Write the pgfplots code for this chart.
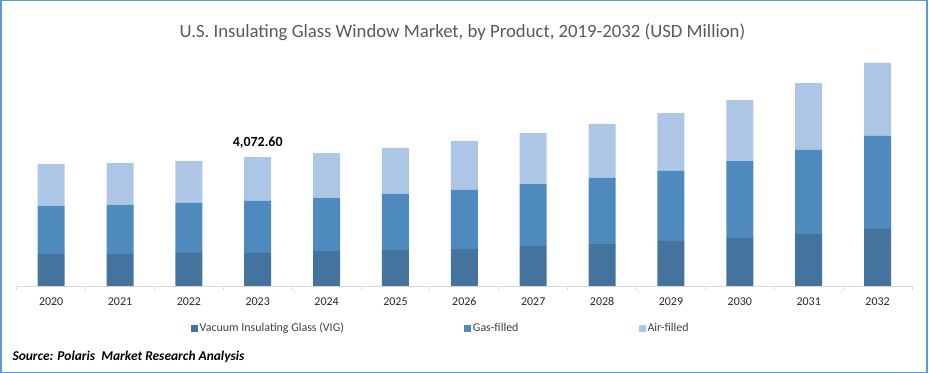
\documentclass[border=0pt]{standalone}
\usepackage{pgfplots}
\pgfplotsset{compat=1.18}
\usepackage{fontspec}
\setmainfont{Carlito}
\definecolor{vig}{HTML}{44739E}
\definecolor{gas}{HTML}{4E8ABD}
\definecolor{air}{HTML}{ADC6E6}
\definecolor{frame}{HTML}{5B9BD5}
\definecolor{titlegray}{HTML}{595959}
\definecolor{axisgray}{HTML}{D9D9D9}
\begin{document}
\begin{tikzpicture}
\useasboundingbox (0,0) rectangle (929bp,373bp);
\draw[frame, line width=1.5bp] (0.75bp,0.75bp) rectangle (927bp,372.25bp);
\node[anchor=base, text=titlegray, font=\fontsize{18.8}{21}\selectfont] at (462.5bp,335.3bp) {U.S. Insulating Glass Window Market, by Product, 2019-2032 (USD Million)};
\node[anchor=base west, font=\fontsize{13.5}{15}\selectfont\bfseries\itshape] at (9bp,12.3bp) {Source: Polaris\ \ Market Research Analysis};
\begin{axis}[
  at={(16.7bp,87bp)}, anchor=south west,
  scale only axis, width=895.3bp, height=236bp,
  ybar stacked, bar width=27bp,
  xmin=-0.5, xmax=12.5, ymin=0, ymax=7451,
  axis x line*=bottom, axis y line=none,
  x axis line style={draw=axisgray, line width=1bp},
  xtick={0,...,12},
  xticklabels={2020,2021,2022,2023,2024,2025,2026,2027,2028,2029,2030,2031,2032},
  major tick length=0,
  /pgf/number format/assume math mode=true,
  xticklabel style={font=\fontsize{12}{14}\selectfont, text=black!85, anchor=base, yshift=-19bp},
  extra x ticks={-0.5,0.5,...,12.5},
  extra x tick labels={},
  extra x tick style={major tick length=4bp, tick align=outside, tick style={draw=axisgray, line width=1bp}},
  legend columns=3,
  legend style={at={(axis description cs:0.1947,-0.178)}, anchor=west, draw=none, fill=none, inner sep=0pt,
    font=\fontsize{12}{14}\selectfont, text=black!75,
    /tikz/every even column/.append style={column sep=119bp},
    nodes={inner sep=1.5bp}},
  legend image code/.code={\fill[#1] (0bp,-3.5bp) rectangle (7bp,3.5bp);},
  legend cell align=left,
]
\addplot[fill=vig, draw=none] coordinates {(0,1010) (1,1010) (2,1042) (3,1042) (4,1105) (5,1137) (6,1168) (7,1263) (8,1326) (9,1421) (10,1515) (11,1642) (12,1800)};
\addplot[fill=gas, draw=none] coordinates {(0,1515) (1,1547) (2,1579) (3,1642) (4,1673) (5,1768) (6,1863) (7,1957) (8,2084) (9,2210) (10,2431) (11,2652) (12,2936)};
\addplot[fill=air, draw=none] coordinates {(0,1326) (1,1326) (2,1326) (3,1388.6) (4,1421) (5,1452) (6,1547) (7,1610) (8,1705) (9,1831) (10,1926) (11,2115) (12,2305)};
\legend{Vacuum Insulating Glass (VIG),Gas-filled,Air-filled}
\node[anchor=base, font=\fontsize{14}{16}\selectfont\bfseries] at (axis cs:3,4072.6) [yshift=10.3bp] {4,072.60};
\end{axis}
\end{tikzpicture}
\end{document}
